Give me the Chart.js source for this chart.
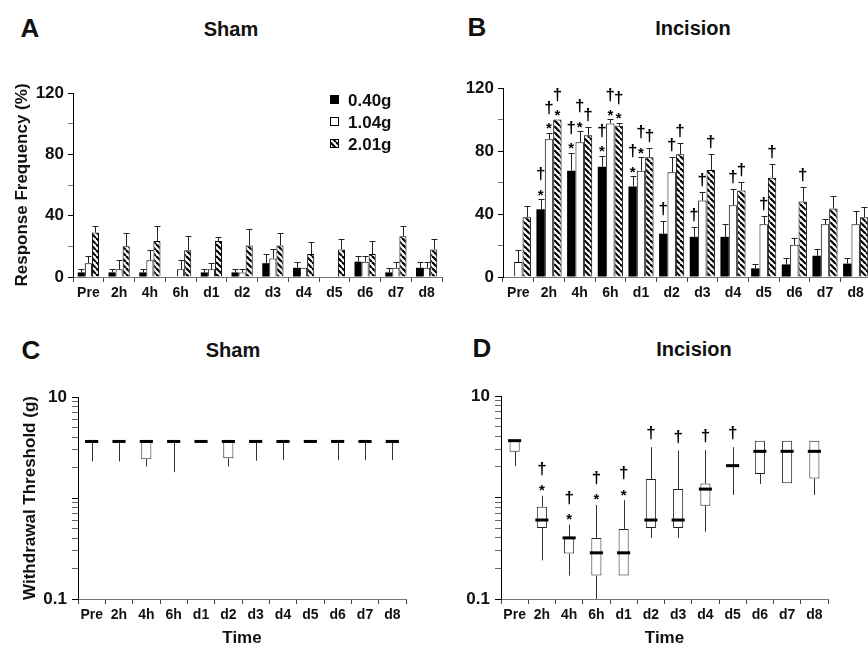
<!DOCTYPE html>
<html>
<head>
<meta charset="utf-8">
<title>Response frequency and withdrawal threshold after incision</title>
<script src="https://cdn.jsdelivr.net/npm/chart.js@4.4.1/dist/chart.umd.min.js"></script>
<style>
  html, body { margin: 0; padding: 0; background: #fff; }
  body { position: relative; width: 868px; height: 647px; overflow: hidden;
         font-family: "Liberation Sans", Arial, Helvetica, sans-serif; color: #111; }
  .txt { position: absolute; font-weight: bold; transform: translate(-50%, -50%); white-space: nowrap; line-height: 1; }
  .panel { font-size: 26px; }
  .title { font-size: 20px; }
  canvas { position: absolute; }
</style>
</head>
<body>
<div class="txt panel" style="left:30px;top:28px">A</div>
<div class="txt title" style="left:231px;top:29px">Sham</div>
<div class="txt panel" style="left:477px;top:27px">B</div>
<div class="txt title" style="left:693px;top:28px">Incision</div>
<div class="txt panel" style="left:31px;top:350px">C</div>
<div class="txt title" style="left:233px;top:350px">Sham</div>
<div class="txt panel" style="left:482px;top:348px">D</div>
<div class="txt title" style="left:694px;top:349px">Incision</div>

<canvas id="respSham" width="450" height="240" style="left:0;top:70px"></canvas>
<canvas id="respIncision" width="440" height="250" style="left:440px;top:60px"></canvas>
<canvas id="threshSham" width="420" height="277" style="left:0;top:370px"></canvas>
<canvas id="threshIncision" width="400" height="277" style="left:440px;top:370px"></canvas>

<script>
// time points and labels
const timePoints = ['Pre', '2h', '4h', '6h', 'd1', 'd2', 'd3', 'd4', 'd5', 'd6', 'd7', 'd8'];
const filamentLabels = ['0.40g', '1.04g', '2.01g'];
const frequencyTicks = [0, 40, 80, 120];
const thresholdTicks = [0.1, 10];
const thresholdGrid = [0.1, 0.2, 0.3, 0.4, 0.5, 0.6, 0.7, 0.8, 0.9, 1, 2, 3, 4, 5, 6, 7, 8, 9, 10];

// A - sham, response frequency (%) mean + SEM
const shamFreq040 = [3, 3, 3, 0, 3, 3, 9, 6, 0, 10, 3, 6];
const shamErr040 = [2.5, 2.5, 2.5, 0, 2.5, 2.5, 6, 3.5, 0, 3.5, 3, 3.5];
const shamFreq104 = [9, 5, 11, 5, 5, 3, 12, 6, 0, 10, 6, 6];
const shamErr104 = [5, 6, 6.5, 6, 4, 2, 6, 0, 0, 3.5, 4, 3.5];
const shamFreq201 = [29, 20, 23.5, 17.5, 23.5, 20.5, 20.5, 15, 18, 15, 26.5, 18];
const shamErr201 = [4, 8.5, 10, 9, 2.5, 10.5, 8.5, 8, 6.5, 8.5, 7, 6.5];

// B - incision, response frequency (%) mean + SEM
const incFreq040 = [0, 43, 67.5, 70, 57.5, 27.5, 25.5, 25.5, 5.5, 8, 13.5, 8.5];
const incErr040 = [0, 6.5, 11.5, 7, 6.5, 8, 6, 8, 3, 4, 4, 3.5];
const incFreq104 = [9.5, 87.5, 85.5, 97.5, 67.5, 66.5, 48.5, 45.5, 33.5, 20.5, 33.5, 33.5];
const incErr104 = [7.5, 4, 7, 2.5, 8.5, 9.5, 5.5, 10.5, 5, 4, 3.5, 8.5];
const incFreq201 = [38, 100, 90, 96, 76, 78, 68, 55, 63, 48, 43.5, 38];
const incErr201 = [7, 0, 5.5, 2, 6, 7, 10, 5.5, 9, 9, 8, 6.5];
const incSig040 = ['', '*†', '*†', '*†', '*†', '†', '†', '', '', '', '', ''];
const incSig104 = ['', '*†', '*†', '*†', '*†', '†', '†', '†', '†', '', '', ''];
const incSig201 = ['', '*†', '†', '*†', '†', '†', '†', '†', '†', '†', '', ''];

// C - sham, withdrawal threshold (g): range, quartiles, median
const shamThrMin = [2.3, 2.3, 2.05, 1.8, 3.63, 2.05, 2.34, 2.37, 3.63, 2.37, 2.37, 2.37];
const shamThrQ1 = [3.63, 3.63, 2.42, 3.63, 3.63, 2.47, 3.63, 3.63, 3.63, 3.63, 3.63, 3.63];
const shamThrMed = [3.63, 3.63, 3.63, 3.63, 3.63, 3.63, 3.63, 3.63, 3.63, 3.63, 3.63, 3.63];
const shamThrQ3 = [3.63, 3.63, 3.63, 3.63, 3.63, 3.63, 3.63, 3.63, 3.63, 3.63, 3.63, 3.63];
const shamThrMax = [3.63, 3.63, 3.63, 3.63, 3.63, 3.63, 3.63, 3.63, 3.63, 3.63, 3.63, 3.63];

// D - incision, withdrawal threshold (g)
const incThrMin = [2.03, 0.24, 0.17, 0.1, 0.17, 0.4, 0.4, 0.46, 1.06, 1.36, 1.38, 1.06];
const incThrQ1 = [2.83, 0.5, 0.28, 0.17, 0.17, 0.5, 0.5, 0.83, 2.06, 1.7, 1.38, 1.54];
const incThrMed = [3.63, 0.6, 0.4, 0.285, 0.285, 0.6, 0.6, 1.21, 2.06, 2.85, 2.85, 2.85];
const incThrQ3 = [3.63, 0.81, 0.4, 0.4, 0.49, 1.52, 1.21, 1.37, 2.06, 3.63, 3.63, 3.63];
const incThrMax = [3.63, 1.04, 0.54, 0.845, 0.94, 3.13, 2.9, 2.93, 3.13, 3.63, 3.63, 3.63];
const incThrSig = ['', '*†', '*†', '*†', '*†', '†', '†', '†', '†', '', '', ''];

const FONT = '"Liberation Sans", Arial, Helvetica, sans-serif';
Chart.defaults.font.family = FONT;
Chart.defaults.color = '#111';

// diagonal hatch used for the 2.01g filament
function makeHatch() {
    const c = document.createElement('canvas');
    c.width = c.height = 6;
    const g = c.getContext('2d');
    g.fillStyle = '#fff';
    g.fillRect(0, 0, 6, 6);
    g.strokeStyle = '#000';
    g.lineWidth = 2.2;
    for (const o of [-6, 0, 6]) {
        g.beginPath();
        g.moveTo(o, 0);
        g.lineTo(o + 6, 6);
        g.stroke();
    }
    return g.createPattern(c, 'repeat');
}
const filamentFills = ['#000', '#fff', makeHatch()];

// SEM whiskers on top of each bar
const errorBars = {
    id: 'errorBars',
    afterDatasetsDraw(chart) {
        const { ctx, scales: { y } } = chart;
        ctx.save();
        ctx.strokeStyle = '#222';
        ctx.lineWidth = 1;
        chart.data.datasets.forEach((ds, i) => {
            chart.getDatasetMeta(i).data.forEach((bar, j) => {
                const err = ds.errors[j];
                if (!err) return;
                const x = Math.round(bar.x) + 0.5;
                const top = Math.round(y.getPixelForValue(ds.data[j] + err)) + 0.5;
                ctx.beginPath();
                ctx.moveTo(x, bar.y);
                ctx.lineTo(x, top);
                ctx.moveTo(x - 3, top);
                ctx.lineTo(x + 3, top);
                ctx.stroke();
            });
        });
        ctx.restore();
    }
};

// * and † significance marks above bars / whiskers
const sigMarks = {
    id: 'sigMarks',
    afterDatasetsDraw(chart, args, opts) {
        const { ctx, scales: { y } } = chart;
        ctx.save();
        ctx.fillStyle = '#000';
        ctx.textAlign = 'center';
        ctx.textBaseline = 'alphabetic';
        chart.data.datasets.forEach((ds, i) => {
            if (!ds.marks) return;
            chart.getDatasetMeta(i).data.forEach((el, j) => {
                const m = ds.marks[j];
                if (!m) return;
                const top = y.getPixelForValue(ds.markFrom[j]);
                if (m.includes('*')) {
                    ctx.font = 'bold 15px ' + FONT;
                    ctx.fillText('*', el.x, top + opts.star);
                    ctx.font = 'bold 17px ' + FONT;
                    ctx.fillText('†', el.x, top - opts.pair);
                } else {
                    ctx.font = 'bold 17px ' + FONT;
                    ctx.fillText('†', el.x, top - opts.solo);
                }
            });
        });
        ctx.restore();
    }
};

// filament key drawn inside panel A
const filamentKey = {
    id: 'filamentKey',
    afterDraw(chart, args, opts) {
        if (!opts.show) return;
        const { ctx, chartArea } = chart;
        const x = chartArea.right - 112;
        ctx.save();
        ctx.font = 'bold 17px ' + FONT;
        ctx.textBaseline = 'middle';
        chart.data.datasets.forEach((ds, i) => {
            const yc = chartArea.top + 7 + i * 22;
            ctx.fillStyle = ds.backgroundColor;
            ctx.fillRect(x, yc - 5, 9, 9);
            ctx.strokeStyle = '#000';
            ctx.lineWidth = 1;
            ctx.strokeRect(x + 0.5, yc - 4.5, 8, 8);
            ctx.fillStyle = '#111';
            ctx.fillText(ds.label, x + 18, yc + 1);
        });
        ctx.restore();
    }
};

// whiskers and median bar for the threshold box plots
const boxWhiskers = {
    id: 'boxWhiskers',
    afterDatasetsDraw(chart) {
        const { ctx, scales: { y } } = chart;
        const ds = chart.data.datasets[0];
        ctx.save();
        chart.getDatasetMeta(0).data.forEach((box, j) => {
            const x = Math.round(box.x) + 0.5;
            ctx.strokeStyle = '#333';
            ctx.lineWidth = 1;
            ctx.beginPath();
            ctx.moveTo(x, y.getPixelForValue(ds.data[j][1]));
            ctx.lineTo(x, y.getPixelForValue(ds.high[j]));
            ctx.moveTo(x, y.getPixelForValue(ds.data[j][0]));
            ctx.lineTo(x, y.getPixelForValue(ds.low[j]));
            ctx.stroke();
            const half = box.width * 0.65;
            const ym = y.getPixelForValue(ds.median[j]);
            ctx.strokeStyle = '#000';
            ctx.lineWidth = 3;
            ctx.beginPath();
            ctx.moveTo(box.x - half, ym);
            ctx.lineTo(box.x + half, ym);
            ctx.stroke();
        });
        ctx.restore();
    }
};

function timeAxis(height, withTitle) {
    return {
        afterFit: s => { s.height = height; },
        ticks: { padding: 3, color: '#111', autoSkip: false, maxRotation: 0, font: { size: 14, weight: 'bold' } },
        grid: { drawOnChartArea: false, offset: true, tickLength: 5, tickColor: '#444' },
        border: { color: '#777', width: 1 },
        title: {
            display: withTitle, text: 'Time', color: '#111',
            font: { size: 17, weight: 'bold', lineHeight: 1 }, padding: { top: 2, bottom: 0 }
        }
    };
}

function responseChart(canvasId, series, layout) {
    return new Chart(document.getElementById(canvasId), {
        type: 'bar',
        data: {
            labels: timePoints,
            datasets: series.map((s, i) => ({
                label: filamentLabels[i],
                data: s.mean,
                errors: s.err,
                marks: s.sig,
                markFrom: s.mean.map((v, k) => v + s.err[k]),
                backgroundColor: filamentFills[i],
                borderColor: '#000',
                borderWidth: i === 0 ? 0 : 1,
                categoryPercentage: layout.group,
                barPercentage: 1
            }))
        },
        options: {
            responsive: false,
            animation: false,
            layout: { padding: layout.padding },
            plugins: {
                legend: { display: false },
                tooltip: { enabled: false },
                filamentKey: { show: layout.key },
                sigMarks: { star: 0.5, pair: 20, solo: 7 }
            },
            scales: {
                x: timeAxis(33, false),
                y: {
                    min: 0,
                    max: 120,
                    afterFit: s => { s.width = layout.yWidth; },
                    ticks: {
                        stepSize: 20, autoSkip: false, padding: 4, color: '#111',
                        font: { size: 17, weight: 'bold' },
                        callback: v => frequencyTicks.includes(v) ? v : ''
                    },
                    grid: {
                        drawOnChartArea: false, tickLength: 5,
                        tickColor: c => frequencyTicks.includes(c.tick.value) ? '#000' : '#777'
                    },
                    border: { color: '#000', width: 1 },
                    title: {
                        display: layout.key, text: 'Response Frequency (%)', color: '#111',
                        font: { size: 17, weight: 'bold' }, padding: { top: 12 }
                    }
                }
            }
        },
        plugins: [errorBars, sigMarks, filamentKey]
    });
}

function thresholdChart(canvasId, box, layout) {
    return new Chart(document.getElementById(canvasId), {
        type: 'bar',
        data: {
            labels: timePoints,
            datasets: [{
                label: 'Withdrawal threshold',
                data: box.q1.map((v, k) => [v, box.q3[k]]),
                low: box.min,
                high: box.max,
                median: box.med,
                marks: box.sig,
                markFrom: box.max,
                backgroundColor: '#fff',
                borderColor: '#222',
                borderWidth: 1,
                borderSkipped: false,
                barPercentage: 0.37,
                categoryPercentage: 1
            }]
        },
        options: {
            responsive: false,
            animation: false,
            layout: { padding: layout.padding },
            plugins: {
                legend: { display: false },
                tooltip: { enabled: false },
                sigMarks: { star: -0.5, pair: 22, solo: 9 }
            },
            scales: {
                x: timeAxis(48, true),
                y: {
                    type: 'logarithmic',
                    min: 0.1,
                    max: 10,
                    afterFit: s => { s.width = layout.yWidth; },
                    afterBuildTicks: s => {
                        s.ticks = thresholdGrid.map(v => ({ value: v, major: [0.1, 1, 10].includes(v) }));
                    },
                    ticks: {
                        autoSkip: false, padding: 5, color: '#111',
                        font: { size: 17, weight: 'bold' },
                        callback: v => thresholdTicks.some(t => Math.abs(t - v) < 1e-9) ? String(v) : ''
                    },
                    grid: {
                        drawOnChartArea: false, tickLength: 6,
                        tickColor: c => c.tick.major ? '#000' : '#666'
                    },
                    border: { color: '#000', width: 1 },
                    title: {
                        display: layout.yTitle, text: 'Withdrawal Threshold (g)', color: '#111',
                        font: { size: 17, weight: 'bold' }, padding: { top: 20 }
                    }
                }
            }
        },
        plugins: [boxWhiskers, sigMarks]
    });
}

responseChart('respSham', [
    { mean: shamFreq040, err: shamErr040 },
    { mean: shamFreq104, err: shamErr104 },
    { mean: shamFreq201, err: shamErr201 }
], { padding: { top: 23, right: 8, left: 0, bottom: 0 }, yWidth: 73, group: 0.69, key: true });

responseChart('respIncision', [
    { mean: incFreq040, err: incErr040, sig: incSig040 },
    { mean: incFreq104, err: incErr104, sig: incSig104 },
    { mean: incFreq201, err: incErr201, sig: incSig201 }
], { padding: { top: 28, right: 9, left: 0, bottom: 0 }, yWidth: 63, group: 0.82, key: false });

thresholdChart('threshSham', {
    min: shamThrMin, q1: shamThrQ1, med: shamThrMed, q3: shamThrQ3, max: shamThrMax
}, { padding: { top: 27, right: 14, left: 0, bottom: 0 }, yWidth: 78, yTitle: true });

thresholdChart('threshIncision', {
    min: incThrMin, q1: incThrQ1, med: incThrMed, q3: incThrQ3, max: incThrMax, sig: incThrSig
}, { padding: { top: 26, right: 12, left: 0, bottom: 0 }, yWidth: 61, yTitle: false });
</script>
</body>
</html>
